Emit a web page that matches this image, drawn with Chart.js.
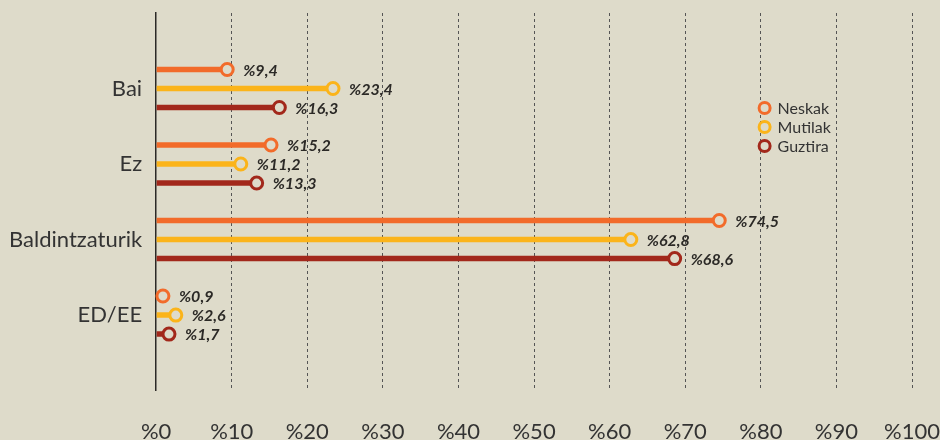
<!DOCTYPE html>
<html><head><meta charset="utf-8">
<script src="https://cdn.jsdelivr.net/npm/chart.js@4/dist/chart.umd.min.js"></script>
<style>
html,body{margin:0;padding:0;background:#dedbca;}
#wrap{width:940px;height:440px;position:relative;}
</style></head>
<body><div id="wrap"><canvas id="c"></canvas></div>
<script>
const categories = ['Bai', 'Ez', 'Baldintzaturik', 'ED/EE'];
const seriesNames = ['Neskak', 'Mutilak', 'Guztira'];
const neskak = [9.4, 15.2, 74.5, 0.9];
const mutilak = [23.4, 11.2, 62.8, 2.6];
const guztira = [16.3, 13.3, 68.6, 1.7];
const xTicks = [0, 10, 20, 30, 40, 50, 60, 70, 80, 90, 100];
const colors = ['#f26b2a', '#fbb41a', '#a2281b'];
const BG = '#dedbca';

const labels = [''].concat(categories, ['']);
const pad = arr => [null].concat(arr, [null]);
const fmt = v => '%' + String(v).replace('.', ',');

const endMarks = {
  id: 'endMarks',
  afterDatasetsDraw(chart) {
    const ctx = chart.ctx;
    chart.data.datasets.forEach((ds, di) => {
      const meta = chart.getDatasetMeta(di);
      meta.data.forEach((el, i) => {
        const v = ds.data[i];
        if (v === null || v === undefined) return;
        ctx.save();
        ctx.beginPath();
        ctx.arc(el.x, el.y, 6, 0, Math.PI * 2);
        ctx.fillStyle = BG;
        ctx.fill();
        ctx.lineWidth = 3;
        ctx.strokeStyle = ds.backgroundColor;
        ctx.stroke();
        ctx.fillStyle = '#2b2926';
        ctx.font = 'italic bold 16px Lato';
        ctx.textBaseline = 'middle';
        ctx.textAlign = 'left';
        ctx.fillText(fmt(v), el.x + 16, el.y + 1);
        ctx.restore();
      });
    });
  }
};

const legendPlug = {
  id: 'legendPlug',
  afterDraw(chart) {
    const ctx = chart.ctx;
    const xs = chart.scales.x;
    const cx = xs.getPixelForValue(80.5);
    chart.data.datasets.forEach((ds, di) => {
      const y = 108 + di * 19;
      ctx.save();
      ctx.beginPath();
      ctx.arc(cx, y, 5.5, 0, Math.PI * 2);
      ctx.fillStyle = BG;
      ctx.fill();
      ctx.lineWidth = 3;
      ctx.strokeStyle = ds.backgroundColor;
      ctx.stroke();
      ctx.fillStyle = '#333';
      ctx.font = '16px Lato';
      ctx.textBaseline = 'middle';
      ctx.fillText(ds.label, cx + 13, y + 1);
      ctx.restore();
    });
  }
};

new Chart(document.getElementById('c'), {
  type: 'bar',
  data: {
    labels: labels,
    datasets: [
      { label: seriesNames[0], data: pad(neskak), backgroundColor: colors[0] },
      { label: seriesNames[1], data: pad(mutilak), backgroundColor: colors[1] },
      { label: seriesNames[2], data: pad(guztira), backgroundColor: colors[2] }
    ]
  },
  options: {
    indexAxis: 'y',
    responsive: true,
    maintainAspectRatio: false,
    animation: false,
    categoryPercentage: 0.756,
    barPercentage: 0.29,
    layout: { padding: { top: 13, right: 28, left: -5, bottom: -33 } },
    plugins: { legend: { display: false }, tooltip: { enabled: false } },
    scales: {
      x: {
        min: 0, max: 100,
        afterBuildTicks(scale) { scale.ticks = xTicks.map(v => ({ value: v })); },
        afterFit(scale) { scale.paddingRight = 0; scale.paddingLeft = 0; },
        ticks: {
          callback: v => '%' + v,
          color: '#333', font: { family: 'Lato', size: 22 }, padding: 28, maxRotation: 0
        },
        grid: {
          drawTicks: false,
          color: ctx => ctx.tick && ctx.tick.value === 0 ? 'rgba(0,0,0,0)' : '#555',
          lineWidth: 1
        },
        border: { display: false, dash: [3, 3] }
      },
      y: {
        type: 'category',
        offset: false,
        afterFit(scale) { scale.paddingTop = 0; scale.paddingBottom = 0; },
        ticks: { color: '#333', font: { family: 'Lato', size: 22 }, padding: 14, autoSkip: false },
        grid: { display: false, drawTicks: false },
        border: { display: true, color: '#2b2926', width: 1.5 }
      }
    }
  },
  plugins: [endMarks, legendPlug]
});
</script></body></html>
